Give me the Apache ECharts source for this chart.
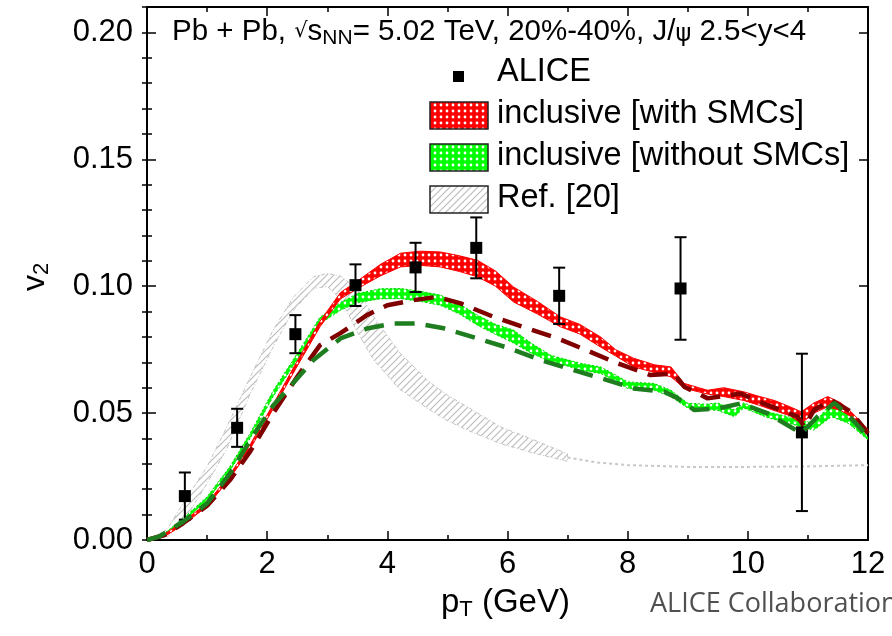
<!DOCTYPE html>
<html><head><meta charset="utf-8">
<script src="https://cdn.jsdelivr.net/npm/echarts@6/dist/echarts.min.js"></script>
<style>html,body{margin:0;padding:0;background:#fff}#main{width:892px;height:636px}</style>
</head><body><div id="main"></div>
<script>
// ---------------- data ----------------
const alicePt  = [0.63, 1.50, 2.47, 3.47, 4.47, 5.48, 6.86, 8.88, 10.9];
const aliceV2  = [0.0173, 0.0442, 0.0811, 0.1004, 0.1074, 0.1151, 0.0962, 0.0991, 0.0424];
const aliceErr = [0.0093, 0.0075, 0.0075, 0.0082, 0.0097, 0.0120, 0.0111, 0.0202, 0.0310];

const ptRed = [0, 0.3, 0.6, 1.0, 1.38, 1.72, 2.1, 2.5, 2.88, 3.22, 3.5, 3.88, 4.22, 4.55, 4.88, 5.2, 5.5, 5.8, 6.1, 6.5, 6.88, 7.2, 7.55, 7.8, 8.1, 8.45, 8.72, 8.94, 9.33, 9.6, 9.93, 10.2, 10.44, 10.7, 10.89, 11.1, 11.33, 11.55, 11.72, 12];
const redLo = [0, 0.0015, 0.0060, 0.0132, 0.0243, 0.0360, 0.0517, 0.0685, 0.0840, 0.0950, 0.0990, 0.1040, 0.1076, 0.1082, 0.1076, 0.1058, 0.1037, 0.1000, 0.0938, 0.0890, 0.0840, 0.0812, 0.0760, 0.0725, 0.0682, 0.0660, 0.0643, 0.0598, 0.0575, 0.0565, 0.0550, 0.0530, 0.0510, 0.0490, 0.0460, 0.0500, 0.0525, 0.0510, 0.0486, 0.0420];
const redHi = [0.0005, 0.0025, 0.0072, 0.0145, 0.0258, 0.0377, 0.0535, 0.0705, 0.0862, 0.0975, 0.1020, 0.1085, 0.1130, 0.1138, 0.1135, 0.1120, 0.1102, 0.1060, 0.0997, 0.0940, 0.0879, 0.0850, 0.0800, 0.0750, 0.0716, 0.0690, 0.0682, 0.0617, 0.0590, 0.0600, 0.0584, 0.0565, 0.0550, 0.0525, 0.0505, 0.0540, 0.0565, 0.0540, 0.0505, 0.0435];

const ptGreen = [0, 0.3, 0.6, 1.0, 1.38, 1.72, 2.1, 2.5, 2.88, 3.22, 3.5, 3.88, 4.22, 4.55, 4.88, 5.2, 5.5, 5.8, 6.1, 6.4, 6.72, 7.0, 7.22, 7.55, 7.8, 8.0, 8.44, 8.72, 9.0, 9.3, 9.5, 9.78, 9.93, 10.33, 10.6, 10.89, 11.1, 11.39, 11.67, 12];
const greenLo = [0, 0.0018, 0.0072, 0.0155, 0.0272, 0.0402, 0.0565, 0.0710, 0.0852, 0.0905, 0.0935, 0.0950, 0.0951, 0.0940, 0.0925, 0.0890, 0.0846, 0.0810, 0.0776, 0.0735, 0.0702, 0.0685, 0.0669, 0.0656, 0.0625, 0.0597, 0.0590, 0.0564, 0.0520, 0.0515, 0.0510, 0.0486, 0.0520, 0.0482, 0.0465, 0.0446, 0.0433, 0.0486, 0.0460, 0.0395];
const greenHi = [0.0005, 0.0028, 0.0085, 0.0170, 0.0290, 0.0422, 0.0588, 0.0735, 0.0878, 0.0935, 0.0971, 0.0990, 0.0991, 0.0980, 0.0965, 0.0930, 0.0886, 0.0850, 0.0827, 0.0775, 0.0728, 0.0710, 0.0696, 0.0682, 0.0650, 0.0623, 0.0617, 0.0590, 0.0539, 0.0535, 0.0540, 0.0512, 0.0540, 0.0505, 0.0490, 0.0472, 0.0459, 0.0540, 0.0500, 0.0405];

const ptGray = [0, 0.33, 0.6, 1.0, 1.33, 1.72, 2.1, 2.44, 2.77, 3.0, 3.22, 3.5, 3.77, 4.2, 4.66, 5.0, 5.33, 5.88, 6.44, 7.0];
const grayLo = [0, 0.001, 0.0070, 0.0223, 0.0360, 0.0577, 0.0761, 0.0906, 0.0990, 0.1000, 0.0950, 0.0820, 0.0710, 0.0595, 0.0520, 0.0470, 0.0433, 0.0380, 0.0342, 0.0310];
const grayHi = [0, 0.004, 0.0144, 0.0289, 0.0446, 0.0643, 0.0827, 0.0958, 0.1037, 0.1050, 0.1040, 0.0990, 0.0880, 0.0740, 0.0630, 0.0570, 0.0525, 0.0446, 0.0394, 0.0340];
const ptGrayTail = [7.0, 7.5, 8, 9, 10, 11, 12];
const grayTail   = [0.0325, 0.0305, 0.0295, 0.0288, 0.0288, 0.0290, 0.0295];

const ptDarkRed = [0, 0.3, 0.6, 1.0, 1.38, 1.72, 2.1, 2.5, 2.88, 3.22, 3.66, 4.0, 4.44, 4.83, 5.22, 5.77, 6.33, 6.83, 7.38, 7.83, 8.38, 8.77, 8.94, 9.33, 9.88, 10.33, 10.83, 10.94, 11.1, 11.39, 11.72, 12];
const darkRed   = [0, 0.002, 0.0066, 0.0135, 0.0236, 0.0350, 0.0499, 0.0643, 0.0768, 0.0815, 0.0886, 0.0925, 0.0945, 0.0958, 0.0932, 0.0879, 0.0834, 0.0795, 0.0741, 0.0696, 0.0650, 0.0656, 0.0604, 0.0558, 0.0577, 0.0531, 0.0486, 0.0446, 0.0512, 0.0551, 0.0505, 0.0420];

const ptDarkGreen = [0, 0.2, 0.6, 1.0, 1.38, 1.72, 2.1, 2.38, 2.77, 3.22, 3.66, 4.1, 4.5, 4.94, 5.5, 6.05, 6.55, 7.1, 7.66, 8.1, 8.61, 8.83, 9.11, 9.5, 9.88, 10.33, 10.89, 11.16, 11.44, 11.72, 12];
const darkGreen   = [0, 0.0013, 0.0072, 0.0144, 0.0262, 0.0394, 0.0530, 0.0604, 0.0709, 0.0794, 0.0833, 0.0853, 0.0853, 0.0834, 0.0794, 0.0754, 0.0709, 0.0669, 0.0630, 0.0597, 0.0584, 0.0559, 0.0512, 0.0518, 0.0538, 0.0499, 0.0420, 0.0486, 0.0540, 0.0480, 0.0407];

const legendLabels = ['ALICE', 'inclusive [with SMCs]', 'inclusive [without SMCs]', 'Ref. [20]'];

// ---------------- patterns ----------------
function dotPattern(bg, dot) {
  const c = document.createElement('canvas'); c.width = 6; c.height = 6;
  const g = c.getContext('2d');
  g.fillStyle = bg; g.fillRect(0, 0, 6, 6);
  g.fillStyle = dot; g.beginPath(); g.arc(3, 3, 1.4, 0, Math.PI * 2); g.fill();
  return c;
}
function hatchPattern(col) {
  const c = document.createElement('canvas'); c.width = 7; c.height = 7;
  const g = c.getContext('2d');
  g.strokeStyle = col; g.lineWidth = 1.2;
  g.beginPath(); g.moveTo(-1, 8); g.lineTo(8, -1); g.moveTo(-1, 1); g.lineTo(1, -1); g.moveTo(6, 8); g.lineTo(8, 6); g.stroke();
  return c;
}
const redFill = { image: dotPattern('#ff0000', '#ffffff'), repeat: 'repeat' };
const greenFill = { image: dotPattern('#00ff00', '#ffffff'), repeat: 'repeat' };
const grayFill = { image: hatchPattern('#bdbdbd'), repeat: 'repeat' };

const pairs = (xs, ys) => xs.map((x, i) => [x, ys[i]]);

function bandSeries(xs, lo, hi, fill, stroke, dash, z) {
  return {
    type: 'custom', xAxisIndex: 0, yAxisIndex: 0, z: z, clip: true, silent: true,
    data: [[xs[0], lo[0]]],
    renderItem: function (params, api) {
      const pts = [];
      for (let i = 0; i < xs.length; i++) pts.push(api.coord([xs[i], hi[i]]));
      for (let i = xs.length - 1; i >= 0; i--) pts.push(api.coord([xs[i], lo[i]]));
      return { type: 'polygon', shape: { points: pts },
        style: { fill: fill, stroke: stroke, lineWidth: 1, lineDash: dash } };
    }
  };
}

const axisCommon = {
  type: 'value', splitLine: { show: false },
  axisLine: { show: true, onZero: false, lineStyle: { color: '#000', width: 2 } },
  axisTick: { show: true, inside: true, length: 9, lineStyle: { color: '#000', width: 1.5 } }
};

const option = {
  animation: false,
  backgroundColor: '#fff',
  grid: { left: 147, right: 24, top: 7, bottom: 96 },
  xAxis: [
    Object.assign({}, axisCommon, { min: 0, max: 12, interval: 2, position: 'bottom',
      minorTick: { show: true, splitNumber: 2, length: 5, lineStyle: { color: '#000', width: 1.5 } },
      axisLabel: { fontSize: 31, color: '#000', margin: 9, fontFamily: 'Liberation Sans' } }),
    Object.assign({}, axisCommon, { min: 0, max: 12, interval: 2, position: 'top',
      minorTick: { show: true, splitNumber: 2, length: 5, lineStyle: { color: '#000', width: 1.5 } },
      axisLabel: { show: false } })
  ],
  yAxis: [
    Object.assign({}, axisCommon, { min: 0, max: 0.21, interval: 0.05, position: 'left',
      axisLabel: { fontSize: 31, color: '#000', margin: 14, fontFamily: 'Liberation Sans', showMaxLabel: false,
        formatter: v => v.toFixed(2) } }),
    Object.assign({}, axisCommon, { min: 0, max: 0.21, interval: 0.05, position: 'right', axisLabel: { show: false } }),
    { type: 'value', min: 0, max: 0.21, interval: 0.01, position: 'left', splitLine: { show: false },
      axisLine: { show: false }, axisLabel: { show: false },
      axisTick: { show: true, inside: true, length: 5, lineStyle: { color: '#000', width: 1.5 } } },
    { type: 'value', min: 0, max: 0.21, interval: 0.01, position: 'right', splitLine: { show: false },
      axisLine: { show: false }, axisLabel: { show: false },
      axisTick: { show: true, inside: true, length: 5, lineStyle: { color: '#000', width: 1.5 } } }
  ],
  series: [
    bandSeries(ptGray, grayLo, grayHi, grayFill, '#c4c4c4', [4, 2, 1, 2], 1),
    { type: 'line', data: pairs(ptGrayTail, grayTail), showSymbol: false, z: 1, silent: true,
      lineStyle: { color: '#c8c8c8', width: 2, type: [3, 3] } },
    bandSeries(ptGreen, greenLo, greenHi, greenFill, '#00d000', [2, 2], 2),
    bandSeries(ptRed, redLo, redHi, redFill, '#ff0000', null, 3),
    { type: 'custom', z: 4, silent: true,
      data: alicePt.map((x, i) => [x, aliceV2[i] - aliceErr[i], aliceV2[i] + aliceErr[i]]),
      renderItem: function (params, api) {
        const lo = api.coord([api.value(0), api.value(1)]);
        const hi = api.coord([api.value(0), api.value(2)]);
        const st = { stroke: '#000', lineWidth: 2 };
        return { type: 'group', children: [
          { type: 'line', shape: { x1: lo[0], y1: lo[1], x2: hi[0], y2: hi[1] }, style: st },
          { type: 'line', shape: { x1: lo[0] - 6, y1: lo[1], x2: lo[0] + 6, y2: lo[1] }, style: st },
          { type: 'line', shape: { x1: hi[0] - 6, y1: hi[1], x2: hi[0] + 6, y2: hi[1] }, style: st }
        ] };
      } },
    { type: 'scatter', name: 'ALICE', data: pairs(alicePt, aliceV2), symbol: 'rect', symbolSize: 12, z: 5,
      itemStyle: { color: '#000', opacity: 1 } },
    { type: 'line', data: pairs(ptDarkRed, darkRed), showSymbol: false, z: 6, silent: true,
      lineStyle: { color: '#800000', width: 4.5, type: [20, 11], cap: 'butt' } },
    { type: 'line', data: pairs(ptDarkGreen, darkGreen), showSymbol: false, z: 6, silent: true,
      lineStyle: { color: '#1e7d1e', width: 4.5, type: [20, 11], cap: 'butt' } }
  ],
  graphic: [
    { type: 'text', left: 172, top: 17, z: 10,
      style: { text: '{n|Pb + Pb, }{r|√}{o|s}{s|NN}{n|= 5.02 TeV, 20%-40%, J/}{p|ψ}{n| 2.5<y<4}',
        rich: {
          n: { fontSize: 29.5, fontFamily: 'Liberation Sans', fill: '#000' },
          o: { fontSize: 29.5, fontFamily: 'Liberation Sans', fill: '#000' },
          r: { fontSize: 21, fontFamily: 'DejaVu Sans', fill: '#000' },
          p: { fontSize: 24, fontFamily: 'DejaVu Sans', fill: '#000', padding: [6, 0, 0, 0] },
          s: { fontSize: 21, fontFamily: 'Liberation Sans', fill: '#000', padding: [13, 0, 0, 0] }
        } } },
    // legend
    { type: 'rect', shape: { x: 453, y: 71, width: 11, height: 11 }, style: { fill: '#000' }, z: 10 },
    { type: 'text', x: 497, y: 72.5, z: 10, style: { text: legendLabels[0], fontSize: 32.5, fontFamily: 'Liberation Sans', fill: '#000', verticalAlign: 'middle' } },
    { type: 'rect', shape: { x: 430, y: 102, width: 58, height: 27 }, style: { fill: redFill, stroke: '#222', lineWidth: 1.5 }, z: 10 },
    { type: 'text', x: 497, y: 114.5, z: 10, style: { text: legendLabels[1], fontSize: 32.5, fontFamily: 'Liberation Sans', fill: '#000', verticalAlign: 'middle' } },
    { type: 'rect', shape: { x: 430, y: 144, width: 58, height: 27 }, style: { fill: greenFill, stroke: '#222', lineWidth: 1.5 }, z: 10 },
    { type: 'text', x: 497, y: 156.5, z: 10, style: { text: legendLabels[2], fontSize: 32.5, fontFamily: 'Liberation Sans', fill: '#000', verticalAlign: 'middle' } },
    { type: 'rect', shape: { x: 430, y: 186, width: 58, height: 27 }, style: { fill: grayFill, stroke: '#222', lineWidth: 1.5 }, z: 10 },
    { type: 'text', x: 497, y: 198.5, z: 10, style: { text: legendLabels[3], fontSize: 32.5, fontFamily: 'Liberation Sans', fill: '#000', verticalAlign: 'middle' } },
    // axis titles
    { type: 'text', x: 441, y: 603, z: 10,
      style: { text: '{n|p}{s|T}{n| (GeV)}', verticalAlign: 'middle',
        rich: { n: { fontSize: 33, fontFamily: 'Liberation Sans', fill: '#000' },
                s: { fontSize: 22, fontFamily: 'Liberation Sans', fill: '#000', padding: [14, 0, 0, 0] } } } },
    { type: 'text', x: 35, y: 277, rotation: Math.PI / 2, z: 10,
      style: { text: '{n|v}{s|2}', align: 'center', verticalAlign: 'middle',
        rich: { n: { fontSize: 32, fontFamily: 'Liberation Sans', fill: '#000' },
                s: { fontSize: 22, fontFamily: 'Liberation Sans', fill: '#000', padding: [14, 0, 0, 0] } } } },
    { type: 'text', x: 650, y: 604, z: 10,
      style: { text: 'ALICE Collaboration', fontSize: 27, fontFamily: 'Open Sans', fill: '#505050', verticalAlign: 'middle' } }
  ]
};
const chart = echarts.init(document.getElementById('main'));
chart.setOption(option);
</script></body></html>
